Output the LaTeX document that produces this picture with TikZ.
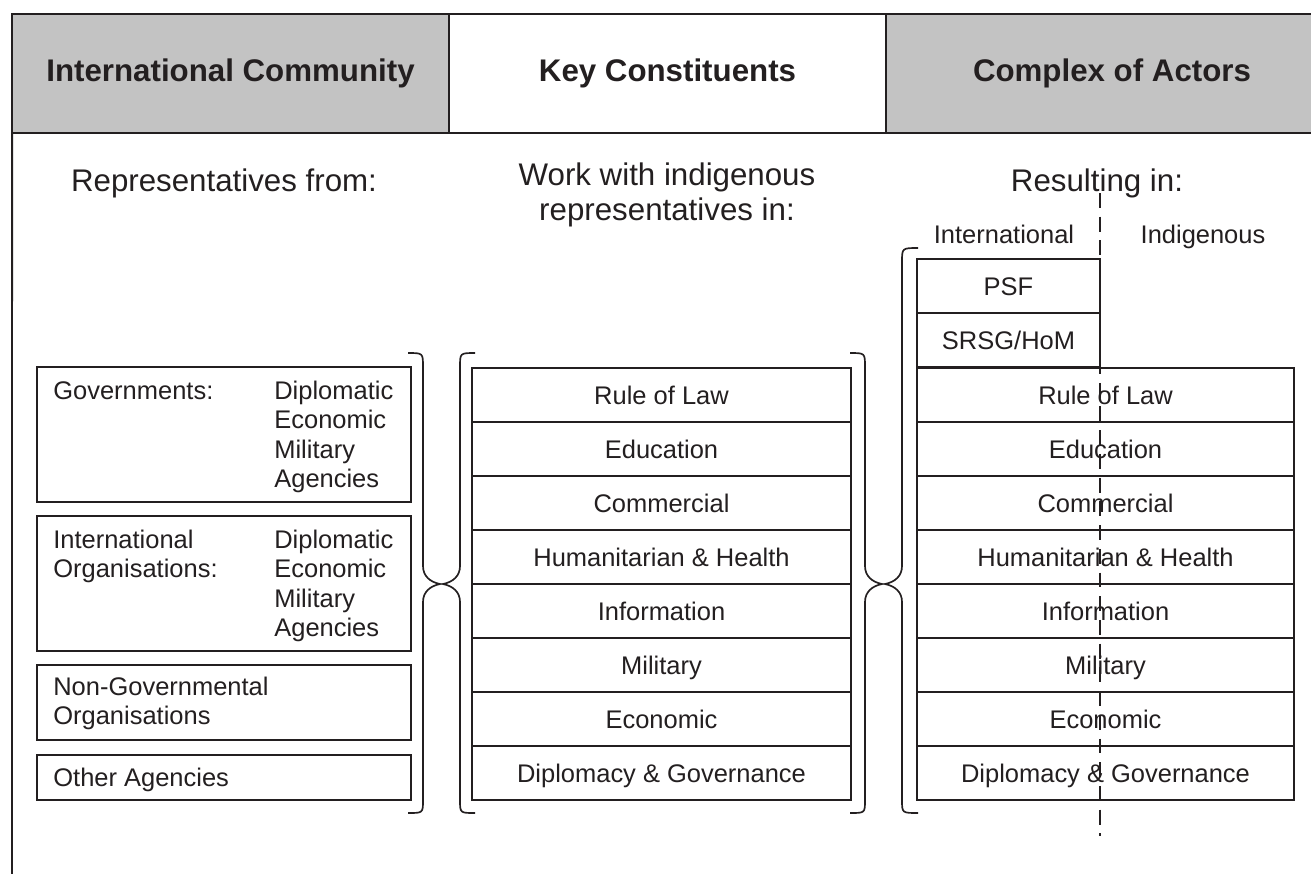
\documentclass[tikz,border=0pt]{standalone}
\usepackage{fontspec}
\setmainfont{Liberation Sans}
\usepackage{xcolor}
\usetikzlibrary{positioning,calc}

\definecolor{headgray}{RGB}{195,195,195}
\definecolor{ink}{RGB}{35,31,32}
\newcommand{\boxfont}{\fontsize{14.5}{16.6}\selectfont}
\newcommand{\titlefont}{\fontsize{17.8}{19.8}\selectfont}

\tikzset{
    headcell/.style={draw=ink, line width=1.1pt, outer sep=0pt, minimum height=2.38cm,
        font=\fontsize{17.8}{20}\selectfont\bfseries, text=ink},
    rowbox/.style={draw=ink, line width=1.1pt, outer sep=0pt, inner sep=0pt,
        minimum height=1.08cm, text height=10.5pt, text depth=0pt, font=\boxfont, text=ink},
    grpbox/.style={draw=ink, line width=1.1pt, outer sep=0pt, minimum width=7.48cm},
    grptext/.style={anchor=north west, inner sep=0pt, align=left, font=\boxfont, text=ink},
    brace/.style={draw=ink, line width=0.95pt},
    divider/.style={draw=ink, line width=1.5pt, dash pattern=on 8.5pt off 5pt}
}

\begin{document}
\begin{tikzpicture}[x=0.02cm, y=-0.02cm]
    \useasboundingbox (0,0) rectangle (1311,873);

    % Header
    \node[headcell, fill=headgray, minimum width=8.74cm] (hdintl) at (230.5,73.5) {International Community};
    \node[headcell, fill=white, minimum width=8.74cm] (hdkey) at (667.5,73.5) {Key Constituents};
    \node[headcell, fill=headgray, minimum width=9.04cm] (hdactors) at (1112,73.5) {Complex of Actors};
    \coordinate (frametop) at (hdintl.south west);
    \coordinate (framebot) at (12,880);
    \draw[ink, line width=1.1pt] (frametop) -- (framebot);

    % Titles
    \node[font=\titlefont, text=ink] (ttlrep) at (224,183) {Representatives from:};
    \node[font=\titlefont, text=ink, align=center] (ttlwork) at (667,195) {Work with indigenous\\representatives in:};
    \node[font=\titlefont, text=ink] (ttlresult) at (1097,183) {Resulting in:};

    % Representatives
    \node[grpbox, minimum height=2.7cm] (govbox) at (224,434.5) {};
    \node[grptext] (govname) at (53,381) {Governments:};
    \node[grptext] (govlist) at (274,381) {Diplomatic\\Economic\\Military\\Agencies};
    \node[grpbox, minimum height=2.7cm] (iobox) at (224,583.5) {};
    \node[grptext] (ioname) at (53,530) {International\\Organisations:};
    \node[grptext] (iolist) at (274,530) {Diplomatic\\Economic\\Military\\Agencies};
    \node[grpbox, minimum height=1.5cm] (ngobox) at (224,702.5) {};
    \node[grptext] (ngoname) at (53,677) {Non-Governmental\\Organisations};
    \node[grpbox, minimum height=0.9cm] (otherbox) at (224,777.5) {};
    \node[grptext] (othername) at (53,768) {Other Agencies};

    % Key constituents
    \node[rowbox, minimum width=7.58cm] (midlaw) at (661.5,395) {Rule of Law};
    \node[rowbox, minimum width=7.58cm, below=0pt of midlaw] (midedu) {Education};
    \node[rowbox, minimum width=7.58cm, below=0pt of midedu] (midcom) {Commercial};
    \node[rowbox, minimum width=7.58cm, below=0pt of midcom] (midhum) {Humanitarian \& Health};
    \node[rowbox, minimum width=7.58cm, below=0pt of midhum] (midinf) {Information};
    \node[rowbox, minimum width=7.58cm, below=0pt of midinf] (midmil) {Military};
    \node[rowbox, minimum width=7.58cm, below=0pt of midmil] (mideco) {Economic};
    \node[rowbox, minimum width=7.58cm, below=0pt of mideco] (middip) {Diplomacy \& Governance};

    % Complex of actors
    \node[font=\boxfont, text=ink, anchor=base] (lblintl) at (1004,243) {International};
    \node[font=\boxfont, text=ink, anchor=base] (lblindig) at (1203,243) {Indigenous};
    \node[rowbox, minimum width=3.66cm] (rgtpsf) at (1008.5,286) {PSF};
    \node[rowbox, minimum width=3.66cm, below=0pt of rgtpsf] (rgtsrsg) {SRSG/HoM};
    \node[rowbox, minimum width=7.54cm] (rgtlaw) at (1105.5,395) {Rule of Law};
    \node[rowbox, minimum width=7.54cm, below=0pt of rgtlaw] (rgtedu) {Education};
    \node[rowbox, minimum width=7.54cm, below=0pt of rgtedu] (rgtcom) {Commercial};
    \node[rowbox, minimum width=7.54cm, below=0pt of rgtcom] (rgthum) {Humanitarian \& Health};
    \node[rowbox, minimum width=7.54cm, below=0pt of rgthum] (rgtinf) {Information};
    \node[rowbox, minimum width=7.54cm, below=0pt of rgtinf] (rgtmil) {Military};
    \node[rowbox, minimum width=7.54cm, below=0pt of rgtmil] (rgteco) {Economic};
    \node[rowbox, minimum width=7.54cm, below=0pt of rgteco] (rgtdip) {Diplomacy \& Governance};

    % Braces
    \draw[brace] (408,353) .. controls (423,353) .. (423,367) -- (423,566) .. controls (423,576) and (430,582) .. (440,584)
        .. controls (430,586) and (423,592) .. (423,602) -- (423,800) .. controls (423,813) .. (408,813);
    \draw[brace] (475,353) .. controls (460,353) .. (460,367) -- (460,566) .. controls (460,576) and (453,582) .. (443,584)
        .. controls (453,586) and (460,592) .. (460,602) -- (460,800) .. controls (460,813) .. (475,813);
    \draw[brace] (850,353) .. controls (865,353) .. (865,367) -- (865,566) .. controls (865,576) and (872,582) .. (882,584)
        .. controls (872,586) and (865,592) .. (865,602) -- (865,800) .. controls (865,813) .. (850,813);
    \draw[brace] (918,248) .. controls (902,248) .. (902,262) -- (902,566) .. controls (902,576) and (895,582) .. (885,584)
        .. controls (895,586) and (902,592) .. (902,602) -- (902,800) .. controls (902,813) .. (918,813);

    % International / indigenous split
    \coordinate (splittop) at (1100,193);
    \coordinate (splitbot) at (1100,836);
    \draw[divider] (splittop) -- (splitbot);
\end{tikzpicture}
\end{document}
